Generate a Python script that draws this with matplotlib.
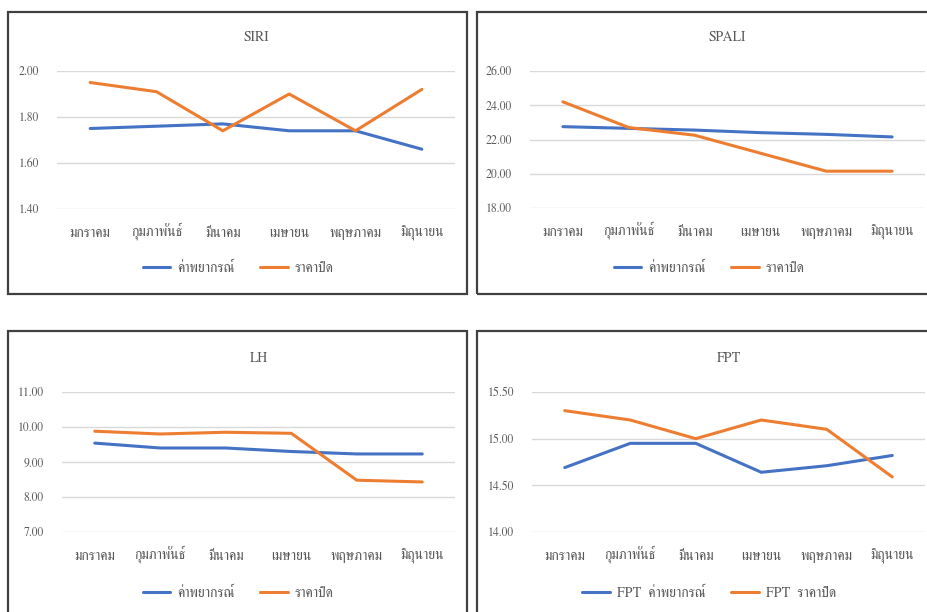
import matplotlib
matplotlib.use("Agg")
import matplotlib.pyplot as plt
from matplotlib.patches import Rectangle

plt.rcParams['font.family'] = ['FreeSerif', 'Liberation Serif', 'DejaVu Sans']

W, H = 928, 612

months = ['มกราคม', 'กุมภาพันธ์', 'มีนาคม', 'เมษายน', 'พฤษภาคม', 'มิถุนายน']

siri_forecast = [1.75, 1.76, 1.77, 1.74, 1.74, 1.66]
siri_close = [1.95, 1.91, 1.74, 1.90, 1.74, 1.92]
siri_ticks = [1.40, 1.60, 1.80, 2.00]

spali_forecast = [22.75, 22.65, 22.55, 22.40, 22.30, 22.15]
spali_close = [24.20, 22.70, 22.25, 21.20, 20.15, 20.15]
spali_ticks = [18.00, 20.00, 22.00, 24.00, 26.00]

lh_forecast = [9.54, 9.40, 9.40, 9.30, 9.23, 9.23]
lh_close = [9.88, 9.80, 9.85, 9.82, 8.48, 8.43]
lh_ticks = [7.00, 8.00, 9.00, 10.00, 11.00]

fpt_forecast = [14.69, 14.95, 14.95, 14.64, 14.71, 14.82]
fpt_close = [15.30, 15.20, 15.00, 15.20, 15.10, 14.59]
fpt_ticks = [14.00, 14.50, 15.00, 15.50]

BLUE = '#4472C4'
ORANGE = '#ED7D31'
GRID = '#D9D9D9'
TEXT = '#595959'


def frac(x0, y0, x1, y1):
    # pixel box (top-left origin) -> figure fraction [left, bottom, width, height]
    return [x0 / W, 1 - y1 / H, (x1 - x0) / W, (y1 - y0) / H]


fig = plt.figure(figsize=(W / 100, H / 100), dpi=100)

# panel frames
for x0, y0, x1, y1 in [(8, 12, 467, 294), (477, 12, 935, 294),
                       (8, 331, 467, 640), (477, 331, 935, 640)]:
    fig.patches.append(Rectangle((x0 / W, 1 - y1 / H), (x1 - x0) / W, (y1 - y0) / H,
                                 transform=fig.transFigure, fill=False,
                                 edgecolor='#404040', linewidth=1.6))

panels = [
    ('SIRI', siri_forecast, siri_close, siri_ticks, (57, 71, 455, 209), 238, 268, ''),
    ('SPALI', spali_forecast, spali_close, spali_ticks, (530, 71, 925, 208), 709, 268, ''),
    ('LH', lh_forecast, lh_close, lh_ticks, (62, 392, 455, 532), 238, 593, ''),
    ('FPT', fpt_forecast, fpt_close, fpt_ticks, (532, 392, 925, 532), 709, 593, 'FPT  '),
]

for title, fc, cl, ticks, box, lx, ly, prefix in panels:
    ax = fig.add_axes(frac(*box))
    x = range(len(months))
    ax.plot(x, fc, color=BLUE, linewidth=2.2, label=prefix + 'ค่าพยากรณ์', solid_capstyle='round')
    ax.plot(x, cl, color=ORANGE, linewidth=2.2, label=prefix + 'ราคาปิด', solid_capstyle='round')
    ax.set_xlim(-0.5, len(months) - 0.5)
    ax.set_ylim(ticks[0], ticks[-1])
    ax.set_yticks(ticks)
    ax.set_yticklabels(['%.2f' % t for t in ticks], fontsize=8.5)
    ax.set_xticks(list(x))
    ax.set_xticklabels(months, fontsize=10, va='baseline')
    ax.tick_params(length=0, labelcolor=TEXT)
    ax.tick_params(axis='y', pad=13)
    ax.tick_params(axis='x', pad=20)
    ax.grid(axis='y', color=GRID, linewidth=1)
    ax.set_axisbelow(True)
    for s in ax.spines.values():
        s.set_visible(False)
    cx = (box[0] + box[2]) / 2
    fig.text(cx / W, 1 - (box[1] - 34) / H, title, ha='center', va='center',
             fontsize=10, color=TEXT)
    fig.legend(handles=ax.get_lines(), loc='center', ncol=2, frameon=False,
               bbox_to_anchor=(lx / W, 1 - ly / H), fontsize=10, labelcolor=TEXT,
               handlelength=2.0, columnspacing=1.8, handletextpad=0.5)

fig.savefig('out.png')
